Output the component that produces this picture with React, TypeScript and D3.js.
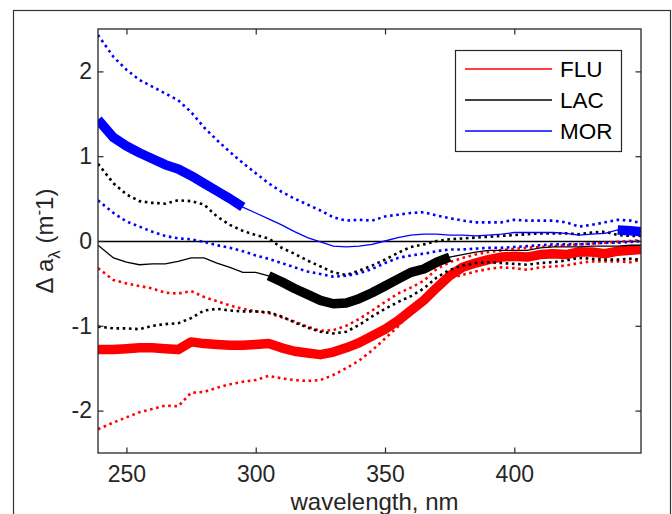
import React, { useEffect, useRef } from 'react';
import * as d3 from 'd3';

// wavelength grid (nm)
const wavelengths = [239, 245, 250, 255, 260, 265, 270, 275, 280, 285, 290, 295, 300, 305, 310, 315, 320, 325, 330, 335, 340, 345, 350, 355, 360, 365, 370, 375, 380, 385, 390, 395, 400, 405, 410, 415, 420, 425, 430, 435, 440, 445, 449];

const fluMean = [-1.28, -1.28, -1.27, -1.26, -1.26, -1.27, -1.28, -1.19, -1.21, -1.22, -1.23, -1.23, -1.22, -1.21, -1.26, -1.30, -1.32, -1.34, -1.31, -1.26, -1.20, -1.12, -1.04, -0.94, -0.82, -0.70, -0.55, -0.41, -0.31, -0.26, -0.22, -0.19, -0.18, -0.19, -0.16, -0.15, -0.16, -0.13, -0.13, -0.15, -0.12, -0.11, -0.10];
const fluUpper = [-0.32, -0.46, -0.50, -0.53, -0.56, -0.61, -0.62, -0.59, -0.66, -0.71, -0.76, -0.80, -0.83, -0.85, -0.90, -0.95, -1.01, -1.06, -1.05, -1.00, -0.92, -0.82, -0.72, -0.62, -0.55, -0.47, -0.33, -0.25, -0.20, -0.16, -0.13, -0.11, -0.09, -0.08, -0.07, -0.06, -0.05, -0.04, -0.03, -0.02, -0.01, 0.00, 0.01];
const fluLower = [-2.22, -2.14, -2.08, -2.02, -1.98, -1.94, -1.95, -1.79, -1.78, -1.73, -1.69, -1.66, -1.64, -1.59, -1.62, -1.64, -1.65, -1.64, -1.58, -1.50, -1.41, -1.29, -1.15, -1.01, -0.84, -0.68, -0.53, -0.44, -0.40, -0.36, -0.33, -0.31, -0.32, -0.34, -0.31, -0.30, -0.29, -0.26, -0.24, -0.24, -0.24, -0.25, -0.22];

const lacMean = [-0.05, -0.20, -0.25, -0.28, -0.27, -0.27, -0.24, -0.20, -0.20, -0.26, -0.31, -0.37, -0.37, -0.41, -0.48, -0.56, -0.63, -0.70, -0.74, -0.73, -0.68, -0.61, -0.53, -0.45, -0.37, -0.33, -0.25, -0.19, -0.16, -0.13, -0.11, -0.11, -0.11, -0.11, -0.08, -0.07, -0.07, -0.07, -0.06, -0.06, -0.06, -0.05, -0.05];
const lacUpper = [0.91, 0.68, 0.55, 0.47, 0.45, 0.44, 0.48, 0.47, 0.43, 0.29, 0.19, 0.12, 0.07, 0.03, -0.08, -0.15, -0.23, -0.30, -0.37, -0.40, -0.35, -0.29, -0.22, -0.14, -0.07, -0.04, 0.00, 0.02, 0.03, 0.04, 0.05, 0.06, 0.07, 0.08, 0.09, 0.09, 0.09, 0.08, 0.10, 0.11, 0.07, 0.06, 0.06];
const lacLower = [-1.01, -1.03, -1.03, -1.04, -1.00, -0.98, -0.97, -0.91, -0.82, -0.80, -0.82, -0.83, -0.83, -0.84, -0.89, -0.96, -1.02, -1.07, -1.09, -1.07, -0.99, -0.89, -0.80, -0.72, -0.65, -0.56, -0.43, -0.34, -0.29, -0.26, -0.25, -0.26, -0.27, -0.28, -0.26, -0.25, -0.23, -0.20, -0.21, -0.22, -0.22, -0.21, -0.22];

const morMean = [1.43, 1.22, 1.12, 1.04, 0.97, 0.90, 0.85, 0.77, 0.68, 0.59, 0.50, 0.40, 0.33, 0.26, 0.19, 0.11, 0.04, -0.01, -0.06, -0.07, -0.06, -0.04, 0.00, 0.04, 0.07, 0.08, 0.08, 0.07, 0.07, 0.06, 0.07, 0.08, 0.10, 0.10, 0.10, 0.10, 0.09, 0.07, 0.08, 0.09, 0.13, 0.12, 0.11];
const morUpper = [2.43, 2.17, 2.02, 1.90, 1.82, 1.74, 1.66, 1.52, 1.34, 1.19, 1.05, 0.92, 0.80, 0.68, 0.58, 0.50, 0.43, 0.36, 0.28, 0.24, 0.25, 0.24, 0.29, 0.31, 0.33, 0.34, 0.30, 0.27, 0.24, 0.22, 0.22, 0.22, 0.25, 0.24, 0.24, 0.24, 0.22, 0.17, 0.19, 0.22, 0.25, 0.24, 0.21];
const morLower = [0.48, 0.33, 0.23, 0.17, 0.11, 0.06, 0.03, 0.02, -0.01, -0.05, -0.08, -0.12, -0.17, -0.21, -0.26, -0.31, -0.36, -0.39, -0.42, -0.41, -0.38, -0.33, -0.26, -0.20, -0.17, -0.15, -0.12, -0.10, -0.10, -0.09, -0.08, -0.08, -0.07, -0.06, -0.05, -0.04, -0.04, -0.04, -0.03, -0.02, -0.02, -0.01, 0.00];

// wavelength ranges where the mean is drawn thick
const fluThick = [[239, 449]];
const lacThick = [[305, 375]];
const morThick = [[239, 295], [440, 449]];

const seriesNames = ['FLU', 'LAC', 'MOR'];
const seriesColors = ['#ff0000', '#000000', '#0000ff'];

const xTicks = [250, 300, 350, 400];
const yTicks = [-2, -1, 0, 1, 2];

const series = [
  { name: seriesNames[0], color: seriesColors[0], mean: fluMean, upper: fluUpper, lower: fluLower, thick: fluThick },
  { name: seriesNames[1], color: seriesColors[1], mean: lacMean, upper: lacUpper, lower: lacLower, thick: lacThick },
  { name: seriesNames[2], color: seriesColors[2], mean: morMean, upper: morUpper, lower: morLower, thick: morThick },
];

const FONT = '"Liberation Sans", Arial, Helvetica, sans-serif';
const AXIS_COLOR = '#262626';

export default function App() {
  const ref = useRef<SVGSVGElement | null>(null);

  useEffect(() => {
    document.body.style.margin = '0';
    const left = 98;
    const right = 641;
    const top = 29;
    const bottom = 453;

    const svg = d3.select(ref.current);
    svg.selectAll('*').remove();

    // outer figure border
    svg.append('rect')
      .attr('x', 13.5).attr('y', 10.5)
      .attr('width', 657).attr('height', 540)
      .attr('fill', 'none').attr('stroke', '#333').attr('stroke-width', 1.2);

    const x = d3.scaleLinear([239, 449], [left, right]);
    const y = d3.scaleLinear([-2.5, 2.5], [bottom, top]);

    svg.append('clipPath').attr('id', 'plotClip')
      .append('rect')
      .attr('x', left).attr('y', top)
      .attr('width', right - left).attr('height', bottom - top);

    const plot = svg.append('g').attr('clip-path', 'url(#plotClip)');

    // zero line
    plot.append('line')
      .attr('x1', left).attr('x2', right)
      .attr('y1', y(0) + 0.5).attr('y2', y(0) + 0.5)
      .attr('stroke', '#000').attr('stroke-width', 1.3);

    const line = d3.line<[number, number]>()
      .x((d) => x(d[0]))
      .y((d) => y(d[1]));

    series.forEach((s) => {
      const pts = (vals: number[]) => wavelengths.map((w, i) => [w, vals[i]] as [number, number]);

      // confidence bounds, dotted
      [s.upper, s.lower].forEach((vals) => {
        plot.append('path')
          .attr('d', line(pts(vals)))
          .attr('fill', 'none')
          .attr('stroke', s.color)
          .attr('stroke-width', 2.6)
          .attr('stroke-dasharray', '2.6 3.6');
      });

      // mean, thin
      plot.append('path')
        .attr('d', line(pts(s.mean)))
        .attr('fill', 'none')
        .attr('stroke', s.color)
        .attr('stroke-width', 1.3);

      // mean, thick where significant
      s.thick.forEach(([a, b]) => {
        const seg = pts(s.mean).filter((d) => d[0] >= a && d[0] <= b);
        plot.append('path')
          .attr('d', line(seg))
          .attr('fill', 'none')
          .attr('stroke', s.color)
          .attr('stroke-width', 9.5)
          .attr('stroke-linejoin', 'round');
      });
    });

    // axes
    const styleAxis = (g: any, labels: boolean) => {
      g.select('.domain').remove();
      g.selectAll('.tick line').attr('stroke', AXIS_COLOR).attr('stroke-width', 1.2);
      g.selectAll('.tick text')
        .attr('fill', AXIS_COLOR)
        .style('font-family', FONT)
        .style('font-size', '23px');
      if (!labels) g.selectAll('.tick text').remove();
    };
    const fmt = (d: any) => String(d);

    svg.append('g')
      .attr('transform', `translate(0,${bottom})`)
      .call(d3.axisBottom(x).tickValues(xTicks).tickFormat(fmt).tickSizeInner(-5.5).tickSizeOuter(0).tickPadding(13))
      .call((g) => styleAxis(g, true));
    svg.append('g')
      .attr('transform', `translate(0,${top})`)
      .call(d3.axisTop(x).tickValues(xTicks).tickSizeInner(-5.5).tickSizeOuter(0))
      .call((g) => styleAxis(g, false));
    svg.append('g')
      .attr('transform', `translate(${left},0)`)
      .call(d3.axisLeft(y).tickValues(yTicks).tickFormat(fmt).tickSizeInner(-5.5).tickSizeOuter(0).tickPadding(6))
      .call((g) => styleAxis(g, true));
    svg.append('g')
      .attr('transform', `translate(${right},0)`)
      .call(d3.axisRight(y).tickValues(yTicks).tickSizeInner(-5.5).tickSizeOuter(0))
      .call((g) => styleAxis(g, false));

    // frame
    svg.append('rect')
      .attr('x', left).attr('y', top)
      .attr('width', right - left).attr('height', bottom - top)
      .attr('fill', 'none').attr('stroke', AXIS_COLOR).attr('stroke-width', 1.3);

    // axis labels
    svg.append('text')
      .attr('x', (left + right) / 2 + 5).attr('y', 510)
      .attr('text-anchor', 'middle')
      .attr('fill', AXIS_COLOR)
      .style('font-family', FONT).style('font-size', '24px')
      .text('wavelength, nm');

    const yl = svg.append('text')
      .attr('transform', `translate(53,${(top + bottom) / 2}) rotate(-90)`)
      .attr('text-anchor', 'middle')
      .attr('fill', AXIS_COLOR)
      .style('font-family', FONT).style('font-size', '24px');
    yl.append('tspan').text('\u0394 a');
    yl.append('tspan').attr('dy', 7).style('font-size', '17px').text('\u03bb');
    yl.append('tspan').attr('dy', -7).text(' (m');
    yl.append('tspan').attr('dy', -9).style('font-size', '17px').text('-');
    yl.append('tspan').attr('dy', 9).text('1)');

    // legend
    const lg = svg.append('g');
    lg.append('rect')
      .attr('x', 455.5).attr('y', 50.5)
      .attr('width', 166).attr('height', 101)
      .attr('fill', '#fff').attr('stroke', AXIS_COLOR).attr('stroke-width', 1.2);
    series.forEach((s, i) => {
      const ly = 69 + i * 31;
      lg.append('line')
        .attr('x1', 465).attr('x2', 552)
        .attr('y1', ly).attr('y2', ly)
        .attr('stroke', s.color).attr('stroke-width', 1.4);
      lg.append('text')
        .attr('x', 560).attr('y', ly)
        .attr('dy', '0.36em')
        .attr('fill', '#000')
        .style('font-family', FONT).style('font-size', '22.5px')
        .text(s.name);
    });
  }, []);

  return (
    <svg
      ref={ref}
      width={672}
      height={514}
      style={{ position: 'absolute', left: 0, top: 0, background: '#fff' }}
    />
  );
}
